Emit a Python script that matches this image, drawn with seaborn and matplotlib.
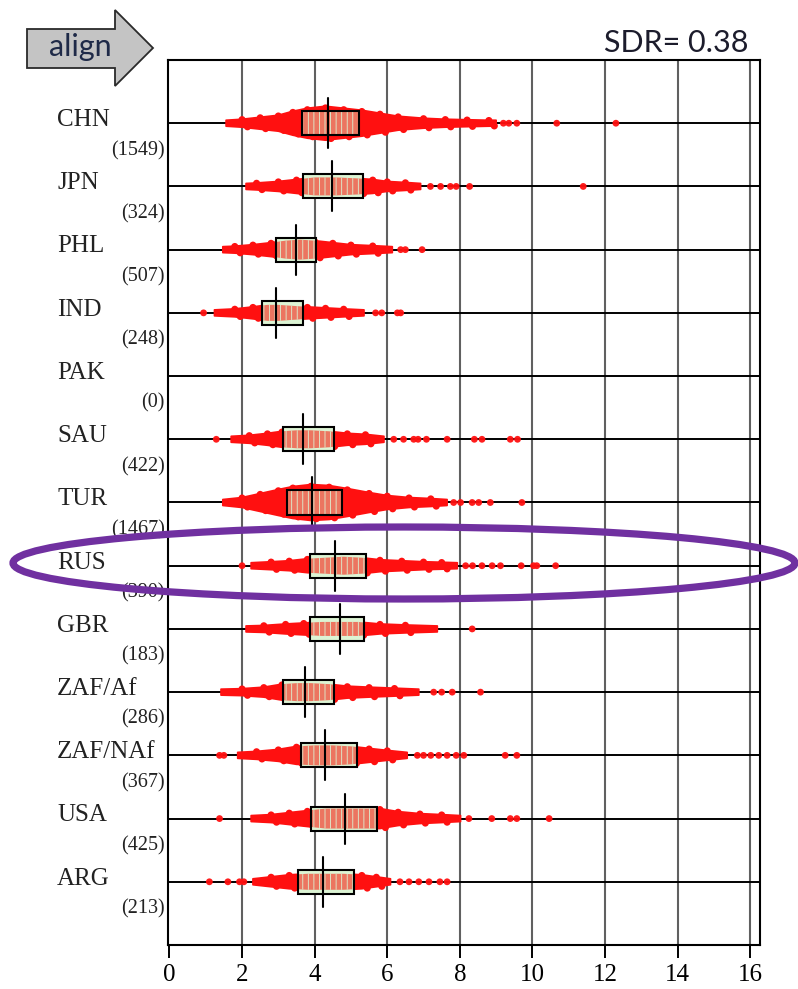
import numpy as np
import pandas as pd
import matplotlib
matplotlib.use("Agg")
import matplotlib.pyplot as plt
import matplotlib.transforms as mtransforms
from matplotlib.patches import Rectangle, Polygon, Ellipse
import seaborn as sns

# ---------------- data ----------------
countries = ["CHN", "JPN", "PHL", "IND", "PAK", "SAU", "TUR",
             "RUS", "GBR", "ZAF/Af", "ZAF/NAf", "USA", "ARG"]
counts = [1549, 324, 507, 248, 0, 422, 1467, 390, 183, 286, 367, 425, 213]

q1 = [3.64, 3.68, 2.93, 2.56, None, 3.12, 3.25, 3.87, 3.86, 3.12, 3.62, 3.91, 3.54]
median = [4.37, 4.48, 3.49, 2.93, None, 3.68, 3.92, 4.55, 4.70, 3.73, 4.28, 4.84, 4.23]
q3 = [5.22, 5.32, 4.05, 3.68, None, 4.53, 4.76, 5.41, 5.37, 4.52, 5.18, 5.73, 5.09]

# dense part of each swarm: positions along x and half-spread (pixels)
profile_x = [
    [1.56, 2.0, 2.5, 3.0, 3.4, 3.8, 4.3, 4.8, 5.3, 5.8, 6.3, 7.0, 7.6, 8.2, 8.8, 9.0],
    [2.11, 2.4, 3.0, 3.5, 4.0, 4.6, 5.2, 5.6, 6.0, 6.5, 6.92],
    [1.47, 1.8, 2.3, 2.8, 3.2, 3.6, 4.0, 4.5, 5.0, 5.6, 6.14],
    [1.24, 1.8, 2.3, 2.7, 3.0, 3.4, 3.8, 4.3, 4.8, 5.36],
    [],
    [1.70, 2.2, 2.7, 3.1, 3.5, 3.9, 4.4, 4.9, 5.4, 5.91],
    [1.47, 2.0, 2.5, 3.0, 3.4, 3.9, 4.4, 4.9, 5.5, 6.0, 6.6, 7.2, 7.65],
    [2.25, 2.8, 3.3, 3.8, 4.3, 4.8, 5.3, 5.8, 6.4, 7.0, 7.5, 7.93],
    [2.11, 2.6, 3.2, 3.7, 4.2, 4.7, 5.2, 5.8, 6.5, 7.38],
    [1.42, 2.0, 2.6, 3.1, 3.5, 3.9, 4.4, 4.9, 5.5, 6.2, 6.87],
    [1.88, 2.4, 3.0, 3.5, 4.0, 4.5, 5.0, 5.5, 6.0, 6.55],
    [2.25, 2.8, 3.3, 3.8, 4.3, 4.8, 5.3, 5.8, 6.3, 6.9, 7.5, 8.02],
    [2.3, 2.8, 3.3, 3.8, 4.3, 4.8, 5.3, 5.7, 6.09],
]
profile_w = [
    [3, 4, 6, 8, 12, 15, 17, 15, 13, 10, 7, 5, 4, 3.5, 3, 3],
    [3, 3.5, 5, 7, 9, 9, 8, 7, 5, 4, 3],
    [3, 3.5, 5, 7, 9, 10, 9, 7, 5, 4, 3],
    [3, 4, 6, 8, 8, 7, 6, 5, 4, 3],
    [],
    [3, 4, 6, 8, 9, 9, 8, 6, 5, 3],
    [3, 5, 9, 13, 16, 18, 17, 14, 10, 7, 5, 4, 3],
    [3, 4, 5, 7, 8, 9, 8, 6, 5, 4, 3.5, 3],
    [3, 3.5, 5, 6, 7, 7, 7, 5, 4, 3],
    [3, 3.5, 5, 8, 9, 9, 8, 6, 5, 4, 3],
    [3, 4, 6, 9, 10, 10, 9, 7, 5, 3],
    [3, 4, 6, 8, 10, 10, 10, 10, 7, 5, 4, 3],
    [3, 5, 7, 8, 8, 8, 7, 5, 3],
]
# isolated points
sparse_pts = [
    [9.2, 9.35, 9.57, 10.67, 12.30],
    [7.19, 7.47, 7.74, 7.9, 8.27, 11.40],
    [6.37, 6.5, 6.96],
    [0.94, 5.68, 5.85, 6.28, 6.37],
    [],
    [1.29, 6.18, 6.45, 6.73, 6.85, 7.08, 7.65, 8.40, 8.61, 9.39, 9.59],
    [7.83, 8.02, 8.34, 8.52, 8.84, 9.71],
    [2.0, 8.16, 8.35, 8.61, 8.89, 9.12, 9.69, 10.03, 10.12, 10.64],
    [8.34],
    [7.28, 7.5, 7.79, 8.57],
    [1.38, 1.5, 6.83, 7.0, 7.2, 7.42, 7.65, 7.9, 8.11, 9.25, 9.57],
    [1.38, 8.25, 8.88, 9.39, 9.57, 10.46],
    [1.10, 1.61, 1.93, 2.05, 6.35, 6.6, 6.87, 7.15, 7.45, 7.65],
]
x_ticks = [0, 2, 4, 6, 8, 10, 12, 14, 16]
sdr_label = "SDR= 0.38"

# ---------------- style ----------------
sns.set_theme(style="white")
plt.rcParams["font.family"] = ["Liberation Serif", "DejaVu Serif"]
plt.rcParams["hatch.linewidth"] = 0.6

W, H = 798, 989
fig = plt.figure(figsize=(W / 100, H / 100), dpi=100)
ax = fig.add_axes([168 / W, (H - 945) / H, (760 - 168) / W, (945 - 60) / H])
nrows = len(countries)
ax.set_xlim(-0.04, 16.27)
ax.set_ylim(nrows + 1, 0)
px_per_unit = 885 / (nrows + 1)

# grid
for xv in x_ticks[1:]:
    ax.axvline(xv, color="#606060", lw=1.5, zorder=0.5)
for i in range(nrows):
    ax.axhline(i + 1, color="black", lw=1.4, zorder=1)

RED = "#ff1010"
SALMON = "#ec7560"
GREEN = "#dcf4d4"
box_half = 12 / px_per_unit
med_half = 25 / px_per_unit

edge_rows = []
for i, c in enumerate(countries):
    y = i + 1
    xs = profile_x[i]
    if xs:
        ws = np.array(profile_w[i]) / px_per_unit
        top = [(x, y - w) for x, w in zip(xs, ws)]
        bot = [(x, y + w) for x, w in zip(xs[::-1], ws[::-1])]
        verts = top + bot
        ax.add_patch(Polygon(verts, closed=True, facecolor=RED, edgecolor=RED,
                             lw=1.2, joinstyle="round", zorder=3))
        # dotted rim of the swarm
        for x, w in zip(xs[1:-1], ws[1:-1]):
            edge_rows.append((x, y - w * 0.9))
            edge_rows.append((x + 0.15, y + w * 0.9))
    if q1[i] is not None:
        face = Rectangle((q1[i], y - box_half), q3[i] - q1[i], 2 * box_half,
                         facecolor=GREEN, edgecolor="none", zorder=4)
        ax.add_patch(face)
        inner = Polygon(verts, closed=True, facecolor=SALMON, edgecolor=GREEN,
                        hatch="|||", lw=0, zorder=5)
        ax.add_patch(inner)
        inner.set_clip_path(face)
        ax.add_patch(Rectangle((q1[i], y - box_half), q3[i] - q1[i], 2 * box_half,
                               fill=False, edgecolor="black", lw=1.5, zorder=6))
        ax.plot([median[i], median[i]], [y - med_half, y + med_half],
                color="black", lw=1.5, zorder=7)

rim = pd.DataFrame(edge_rows, columns=["value", "row"])
sns.scatterplot(data=rim, x="value", y="row", color=RED, s=26, edgecolor="none",
                zorder=3, ax=ax, legend=False)

pts = pd.DataFrame([(v, i + 1) for i in range(nrows) for v in sparse_pts[i]],
                   columns=["value", "row"])
sns.scatterplot(data=pts, x="value", y="row", color=RED, s=24, edgecolor="none",
                alpha=0.95, zorder=3, ax=ax, legend=False)
ax.set_xlabel("")
ax.set_ylabel("")

ax.set_yticks([])
ax.set_xticks(x_ticks)
ax.set_xticklabels([str(t) for t in x_ticks], fontsize=18)
ax.tick_params(axis="x", direction="out", length=9, width=1.4, pad=5,
               colors="black", bottom=True)
for s in ax.spines.values():
    s.set_color("black")
    s.set_linewidth(1.5)

# row labels
tr = mtransforms.blended_transform_factory(fig.transFigure, ax.transData)
for i, c in enumerate(countries):
    y = i + 1
    ax.text(57 / W, y - 0.05, c, transform=tr, ha="left", va="center",
            fontsize=18, color="#222222", clip_on=False)
    ax.text(165 / W, y + 0.43, f"({counts[i]})", transform=tr, ha="right",
            va="center", fontsize=14.5, color="#222222", clip_on=False)

# header decorations
def fpt(x, y):
    return (x / W, 1 - y / H)

arrow = Polygon([fpt(27, 29), fpt(115, 29), fpt(115, 10), fpt(153, 48),
                 fpt(115, 86), fpt(115, 68), fpt(27, 68)], closed=True,
                facecolor="#c4c4c4", edgecolor="#2a2a2a", lw=1.3,
                transform=fig.transFigure)
fig.add_artist(arrow)
fig.text(80 / W, 1 - 47 / H, "align", ha="center", va="center", fontsize=22,
         family=["Lato", "DejaVu Sans"], color="#1f2a48")
fig.text(748 / W, 1 - 43 / H, sdr_label, ha="right", va="center", fontsize=22,
         family=["Lato", "DejaVu Sans"], color="#1c1c2c")

ell = Ellipse(fpt(404, 563), 782 / W, 72 / H, fill=False, edgecolor="#7030a0",
              lw=5.2, transform=fig.transFigure, zorder=10)
fig.add_artist(ell)

fig.savefig("out.png", dpi=100)
